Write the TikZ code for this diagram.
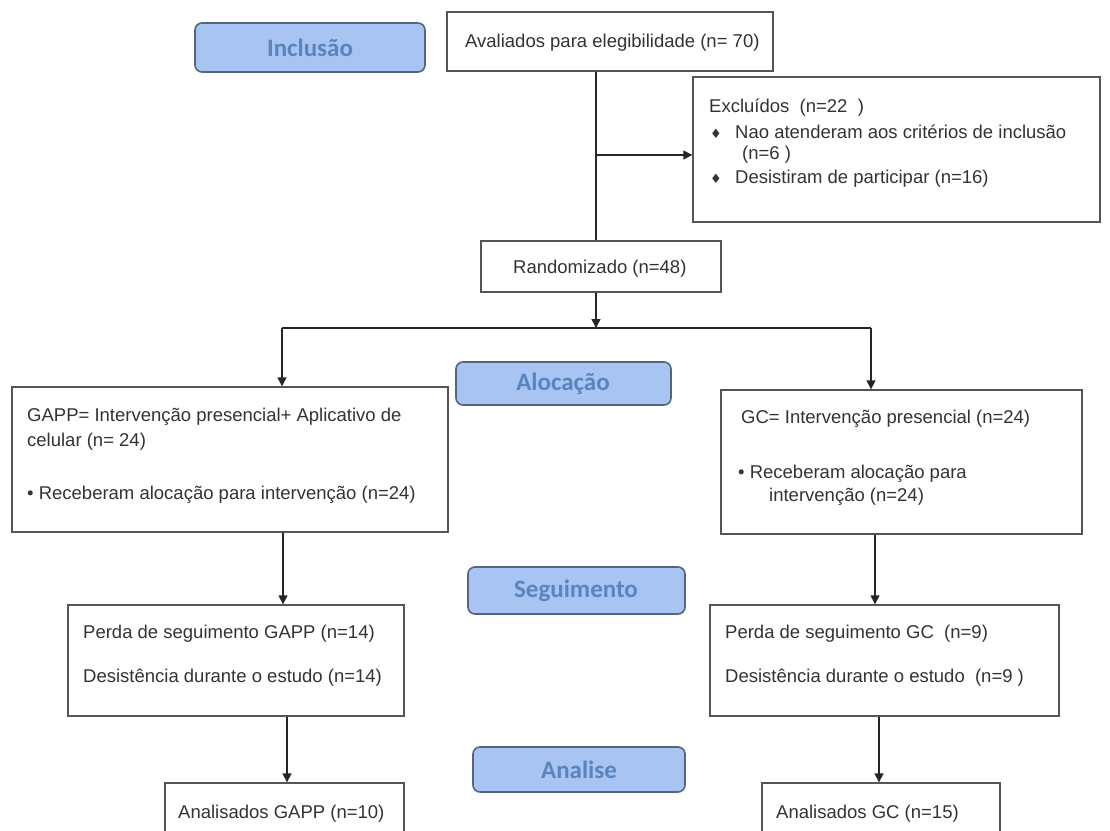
\documentclass[tikz,border=0pt]{standalone}
\usepackage{fontspec}
\setmainfont{Liberation Sans}
\newfontfamily\lblfont{Carlito}
\newfontfamily\symfont{DejaVu Sans}
\usetikzlibrary{arrows.meta}
\definecolor{lblfill}{HTML}{A8C4F2}
\definecolor{lbldraw}{HTML}{55657E}
\definecolor{lbltext}{HTML}{5A84BC}
\definecolor{boxline}{HTML}{555555}
\definecolor{txt}{HTML}{333333}
\tikzset{
  box/.style={draw=boxline, line width=1.4pt, fill=white},
  lbl/.style={draw=lbldraw, fill=lblfill, line width=1.6pt, rounded corners=7pt},
  lbltxt/.style={font=\lblfont\bfseries\fontsize{25}{27}\selectfont, text=lbltext},
  tx/.style={anchor=base west, inner sep=0pt, font=\fontsize{18.5}{20}\selectfont, text=txt},
  conn/.style={draw=black!85, line width=1.4pt},
  arr/.style={conn, -{Triangle[length=9pt,width=9pt]}},
}
\newcommand{\dbul}{{\symfont\fontsize{13}{13}\selectfont ♦}}
\begin{document}
\begin{tikzpicture}[x=1pt,y=-1pt]
\useasboundingbox (0,0) rectangle (1110,830);
\clip (0,0) rectangle (1110,830);
\fill[white] (0,0) rectangle (1110,830);
% label boxes
\draw[lbl] (195,23) rectangle (425,72);
\node[lbltxt] (incl) at (310,48) {Inclusão};
\draw[lbl] (456,362) rectangle (671,405);
\node[lbltxt] (aloc) at (563,384) {Alocação};
\draw[lbl] (468,567) rectangle (685,614);
\node[lbltxt] (segu) at (576,591) {Seguimento};
\draw[lbl] (473,747) rectangle (685,792);
\node[lbltxt] (anal) at (579,770) {Analise};
% boxes
\node[box, minimum width=326pt, minimum height=59pt, inner sep=0pt] (aval) at (610,41.5) {};
\node[box, minimum width=407pt, minimum height=145pt, inner sep=0pt] (excl) at (896.5,149.5) {};
\node[box, minimum width=240pt, minimum height=51pt, inner sep=0pt] (rand) at (601,266.5) {};
\node[box, minimum width=436pt, minimum height=145pt, inner sep=0pt] (gapp) at (230,459.5) {};
\node[box, minimum width=361pt, minimum height=144pt, inner sep=0pt] (gc) at (901.5,462) {};
\node[box, minimum width=336pt, minimum height=111pt, inner sep=0pt] (perdaL) at (236,660.5) {};
\node[box, minimum width=349pt, minimum height=111pt, inner sep=0pt] (perdaR) at (884.5,660.5) {};
\node[box, minimum width=239pt, minimum height=70pt, inner sep=0pt] (anL) at (284.5,818) {};
\node[box, minimum width=238pt, minimum height=70pt, inner sep=0pt] (anR) at (881,818) {};
% texts
\node[tx] (t1) at (465,47) {Avaliados para elegibilidade (n= 70)};
\node[tx] (t2) at (709,112) {Excluídos\ \ (n=22\ \ )};
\node[tx] (t3b) at (710,138) {\dbul};
\node[tx] (t3) at (735,138) {Nao atenderam aos critérios de inclusão};
\node[tx] (t4) at (742,159) {(n=6 )};
\node[tx] (t5b) at (710,183) {\dbul};
\node[tx] (t5) at (735,183) {Desistiram de participar (n=16)};
\node[tx] (t6) at (513,273) {Randomizado (n=48)};
\node[tx] (t7) at (27,421) {GAPP= Intervenção presencial+ Aplicativo de};
\node[tx] (t8) at (27,446) {celular (n= 24)};
\node[tx] (t9) at (27,499) {• Receberam alocação para intervenção (n=24)};
\node[tx] (t10) at (741,423) {GC= Intervenção presencial (n=24)};
\node[tx] (t11) at (738,478) {• Receberam alocação para};
\node[tx] (t12) at (769,501) {intervenção (n=24)};
\node[tx] (t13) at (83,638) {Perda de seguimento GAPP (n=14)};
\node[tx] (t14) at (83,682) {Desistência durante o estudo (n=14)};
\node[tx] (t15) at (725,638) {Perda de seguimento GC\ \ (n=9)};
\node[tx] (t16) at (725,682) {Desistência durante o estudo\ \ (n=9 )};
\node[tx] (t17) at (178,818) {Analisados GAPP (n=10)};
\node[tx] (t18) at (776,818) {Analisados GC (n=15)};
% connectors
\coordinate (bx) at (596,155);
\coordinate (sp) at (596,328);
\coordinate (spL) at (282,328);
\coordinate (spR) at (871,328);
\draw[conn] (aval.south -| bx) -- (rand.north -| bx);
\draw[arr] (bx) -- (excl.west |- bx);
\draw[arr] (rand.south -| sp) -- (sp);
\draw[conn] (spL) -- (spR);
\draw[arr] (spL) -- (gapp.north -| spL);
\draw[arr] (spR) -- (gc.north -| spR);
\draw[arr] (gapp.south -| 283,0) -- (perdaL.north -| 283,0);
\draw[arr] (gc.south -| 875,0) -- (perdaR.north -| 875,0);
\draw[arr] (perdaL.south -| 287,0) -- (anL.north -| 287,0);
\draw[arr] (perdaR.south -| 879,0) -- (anR.north -| 879,0);
\end{tikzpicture}
\end{document}
